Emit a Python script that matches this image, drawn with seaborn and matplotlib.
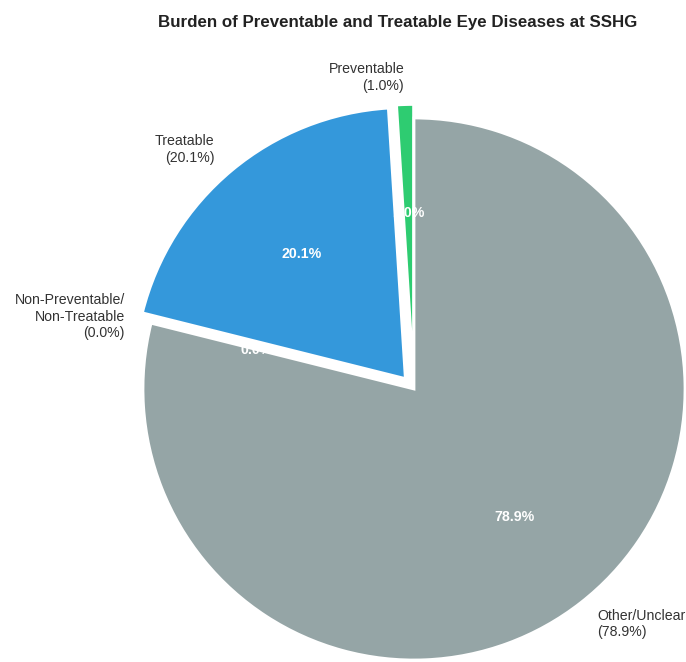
import matplotlib
matplotlib.use("Agg")
import matplotlib.pyplot as plt
import seaborn as sns

# Share of eye disease cases by category (%)
categories = ["Preventable", "Treatable", "Non-Preventable/\nNon-Treatable", "Other/Unclear"]
shares = [1.0, 20.1, 0.0, 78.9]
slice_colors = ["#2ecc71", "#3498db", "#e74c3c", "#95a5a6"]
explode = [0.05, 0.05, 0.0, 0.0]

sns.set_theme(style="white")
plt.rcParams["font.family"] = ["Liberation Sans", "DejaVu Sans"]

W, H, DPI = 686, 662, 100
fig = plt.figure(figsize=(W / DPI, H / DPI), dpi=DPI)
ax = fig.add_axes([0, 0, 1, 1])

labels = [f"{c}\n({v:.1f}%)" for c, v in zip(categories, shares)]
palette = sns.color_palette(slice_colors)

wedges, texts, autotexts = ax.pie(
    shares,
    labels=labels,
    colors=palette,
    explode=explode,
    startangle=90,
    autopct="%1.1f%%",
    pctdistance=0.6,
    labeldistance=1.1,
    wedgeprops=dict(edgecolor="white", linewidth=2),
    textprops=dict(fontsize=10.2, color="#333333"),
)
for t in autotexts:
    t.set_color("white")
    t.set_fontweight("bold")
    t.set_fontsize(10.2)

# Place the pie so that it runs off the right and bottom edges
cx, cy, r = 414, 389, 271
ax.set_aspect("auto")
ax.set_xlim(-cx / r, (W - cx) / r)
ax.set_ylim(-(H - cy) / r, cy / r)
ax.axis("off")

fig.text(398 / W, 1 - 22 / H, "Burden of Preventable and Treatable Eye Diseases at SSHG",
         ha="center", va="center", fontsize=12.2, fontweight="bold", color="#222222")

fig.savefig("out.png", dpi=DPI)
